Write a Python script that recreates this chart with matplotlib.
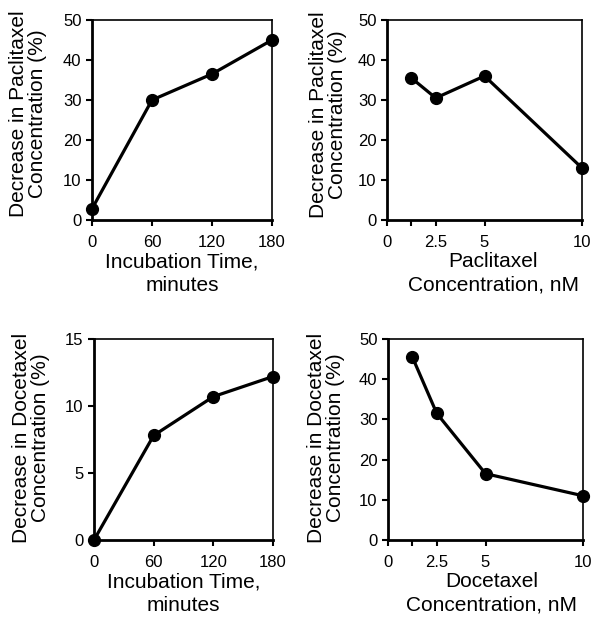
import matplotlib.pyplot as plt

plt.rcParams['font.family'] = ['Liberation Sans', 'DejaVu Sans']

# top left: paclitaxel vs incubation time
pac_time = [0, 60, 120, 180]
pac_time_dec = [2.8, 30, 36.5, 45]
# top right: paclitaxel vs concentration
pac_conc = [1.25, 2.5, 5, 10]
pac_conc_dec = [35.5, 30.5, 36, 13]
# bottom left: docetaxel vs incubation time
doc_time = [0, 60, 120, 180]
doc_time_dec = [0, 7.8, 10.7, 12.2]
# bottom right: docetaxel vs concentration
doc_conc = [1.25, 2.5, 5, 10]
doc_conc_dec = [45.5, 31.5, 16.5, 11]

time_ticks = [0, 60, 120, 180]
conc_ticks = [0, 1.25, 2.5, 5, 10]
conc_labels = ['0', '', '2.5', '5', '10']

W, H = 595, 618
fig = plt.figure(figsize=(W / 100, H / 100), dpi=100)


def make_ax(left, right, top, bottom):  # pixel box -> axes
    return fig.add_axes([left / W, (H - bottom) / H, (right - left) / W, (bottom - top) / H])


def style(ax, xlabel, ylabel, ylx, yly, xlx=0.5):
    for s in ['left', 'bottom']:
        ax.spines[s].set_linewidth(2)
    for s in ['top', 'right']:
        ax.spines[s].set_linewidth(1.2)
    ax.tick_params(direction='out', length=4.5, width=1.5, labelsize=12)
    ax.tick_params(axis='x', pad=6)
    ax.tick_params(axis='y', pad=3)
    ax.set_xlabel(xlabel, fontsize=15, linespacing=1.3, labelpad=2)
    ax.xaxis.label.set_x(xlx)
    ax.set_ylabel(ylabel, fontsize=15, linespacing=1.0)
    ax.yaxis.set_label_coords(ylx, yly)


def draw(ax, x, y):
    ax.plot(x, y, '-o', color='black', lw=2.3, ms=8.5, clip_on=False, zorder=3)


ax1 = make_ax(92, 272, 20, 220)
draw(ax1, pac_time, pac_time_dec)
ax1.set_xlim(0, 180)
ax1.set_ylim(0, 50)
ax1.set_xticks(time_ticks)
ax1.set_yticks(range(0, 51, 10))
style(ax1, 'Incubation Time,\nminutes', 'Decrease in Paclitaxel\nConcentration (%)', -0.25, 0.53)

ax2 = make_ax(387, 582, 20, 220)
draw(ax2, pac_conc, pac_conc_dec)
ax2.set_xlim(0, 10)
ax2.set_ylim(0, 50)
ax2.set_xticks(conc_ticks)
ax2.set_xticklabels(conc_labels)
ax2.set_yticks(range(0, 51, 10))
style(ax2, 'Paclitaxel\nConcentration, nM', 'Decrease in Paclitaxel\nConcentration (%)', -0.205, 0.525, 0.545)

ax3 = make_ax(94, 273, 339, 540)
draw(ax3, doc_time, doc_time_dec)
ax3.set_xlim(0, 180)
ax3.set_ylim(0, 15)
ax3.set_xticks(time_ticks)
ax3.set_yticks([0, 5, 10, 15])
style(ax3, 'Incubation Time,\nminutes', 'Decrease in Docetaxel\nConcentration (%)', -0.246, 0.51)

ax4 = make_ax(388, 583, 339, 540)
draw(ax4, doc_conc, doc_conc_dec)
ax4.set_xlim(0, 10)
ax4.set_ylim(0, 50)
ax4.set_xticks(conc_ticks)
ax4.set_xticklabels(conc_labels)
ax4.set_yticks(range(0, 51, 10))
style(ax4, 'Docetaxel\nConcentration, nM', 'Decrease in Docetaxel\nConcentration (%)', -0.22, 0.51, 0.53)

fig.savefig('out.png', dpi=100)
